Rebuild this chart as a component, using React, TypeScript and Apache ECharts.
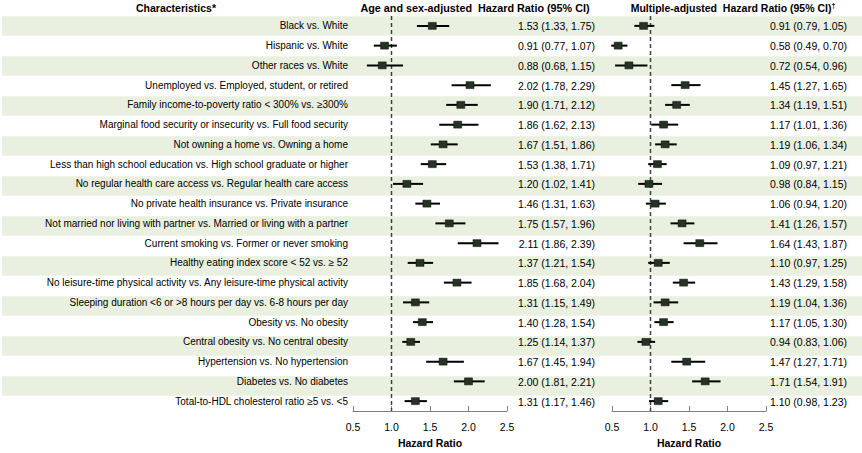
import React, { useEffect, useRef } from "react";
import * as echarts from "echarts";

const categories = [
  "Black vs. White",
  "Hispanic vs. White",
  "Other races vs. White",
  "Unemployed vs. Employed, student, or retired",
  "Family income-to-poverty ratio < 300% vs. ≥300%",
  "Marginal food security or insecurity vs. Full food security",
  "Not owning a home vs. Owning a home",
  "Less than high school education vs. High school graduate or higher",
  "No regular health care access vs. Regular health care access",
  "No private health insurance vs. Private insurance",
  "Not married nor living with partner vs. Married or living with a partner",
  "Current smoking vs. Former or never smoking",
  "Healthy eating index score < 52 vs. ≥ 52",
  "No leisure-time physical activity vs. Any leisure-time physical activity",
  "Sleeping duration <6 or >8 hours per day vs. 6-8 hours per day",
  "Obesity vs. No obesity",
  "Central obesity vs. No central obesity",
  "Hypertension vs. No hypertension",
  "Diabetes vs. No diabetes",
  "Total-to-HDL cholesterol ratio ≥5 vs. <5",
];

const ageHR = [1.53, 0.91, 0.88, 2.02, 1.9, 1.86, 1.67, 1.53, 1.2, 1.46, 1.75, 2.11, 1.37, 1.85, 1.31, 1.4, 1.25, 1.67, 2.0, 1.31];
const ageLo = [1.33, 0.77, 0.68, 1.78, 1.71, 1.62, 1.51, 1.38, 1.02, 1.31, 1.57, 1.86, 1.21, 1.68, 1.15, 1.28, 1.14, 1.45, 1.81, 1.17];
const ageHi = [1.75, 1.07, 1.15, 2.29, 2.12, 2.13, 1.86, 1.71, 1.41, 1.63, 1.96, 2.39, 1.54, 2.04, 1.49, 1.54, 1.37, 1.94, 2.21, 1.46];

const multHR = [0.91, 0.58, 0.72, 1.45, 1.34, 1.17, 1.19, 1.09, 0.98, 1.06, 1.41, 1.64, 1.1, 1.43, 1.19, 1.17, 0.94, 1.47, 1.71, 1.1];
const multLo = [0.79, 0.49, 0.54, 1.27, 1.19, 1.01, 1.06, 0.97, 0.84, 0.94, 1.26, 1.43, 0.97, 1.29, 1.04, 1.05, 0.83, 1.27, 1.54, 0.98];
const multHi = [1.05, 0.7, 0.96, 1.65, 1.51, 1.36, 1.34, 1.21, 1.15, 1.2, 1.57, 1.87, 1.25, 1.58, 1.36, 1.3, 1.06, 1.71, 1.91, 1.23];

const xTicks = { min: 0.5, max: 2.5, interval: 0.5 };
const referenceHR = 1;

const FONT = "Arial, 'Liberation Sans', sans-serif";
const BAND = "#e9f0df";
const MARK = "#243324";

const fmt = (hr: number, lo: number, hi: number) =>
  `${hr.toFixed(2)} (${lo.toFixed(2)}, ${hi.toFixed(2)})`;

const makeRenderCI = (texts: string[], textGap: number) => (params: any, api: any) => {
  const row = api.value(3);
  const c = api.coord([api.value(0), row]);
  const l = api.coord([api.value(1), row]);
  const h = api.coord([api.value(2), row]);
  const cs = params.coordSys;
  return {
    type: "group",
    children: [
      {
        type: "line",
        shape: { x1: l[0], y1: l[1], x2: h[0], y2: h[1] },
        style: { stroke: "#000", lineWidth: 2 },
      },
      {
        type: "rect",
        shape: { x: c[0] - 4, y: c[1] - 3.5, width: 8, height: 7 },
        style: { fill: MARK, stroke: "#111", lineWidth: 0.5 },
      },
      {
        type: "text",
        x: cs.x + cs.width + textGap,
        y: c[1] + 0.5,
        style: {
          text: texts[params.dataIndex],
          fontSize: 10.5,
          fontFamily: FONT,
          fill: "#000",
          align: "right",
          verticalAlign: "middle",
        },
      },
    ],
  };
};

const renderRef = (params: any, api: any) => {
  const p = api.coord([api.value(0), 0]);
  const cs = params.coordSys;
  return {
    type: "line",
    shape: { x1: p[0], y1: cs.y, x2: p[0], y2: cs.y + cs.height },
    style: { stroke: "#404040", lineWidth: 1.5, lineDash: [4, 3] },
  };
};

export default function App() {
  const ref = useRef<HTMLDivElement>(null);
  useEffect(() => {
    if (!ref.current) return;
    const chart = echarts.init(ref.current, null, { renderer: "svg" });

    const leftTexts = categories.map((_, i) => fmt(ageHR[i], ageLo[i], ageHi[i]));
    const rightTexts = categories.map((_, i) => fmt(multHR[i], multLo[i], multHi[i]));
    const ageData = categories.map((_, i) => [ageHR[i], ageLo[i], ageHi[i], i]);
    const multData = categories.map((_, i) => [multHR[i], multLo[i], multHi[i], i]);
    const bandData = categories.map((_, i) => (i % 2 === 0 ? 1 : 0));

    const plotX = (gridIndex: number) => ({
      type: "value",
      gridIndex,
      min: xTicks.min,
      max: xTicks.max,
      interval: xTicks.interval,
      axisLine: { show: true, lineStyle: { color: "#808080", width: 1 } },
      axisTick: { show: true, inside: true, length: 5, lineStyle: { color: "#808080" } },
      axisLabel: {
        formatter: (v: number) => v.toFixed(1),
        fontSize: 10.5,
        color: "#000",
        margin: 10,
        fontFamily: FONT,
      },
      splitLine: { show: false },
      name: "Hazard Ratio",
      nameLocation: "middle",
      nameGap: 26,
      nameTextStyle: { fontSize: 10.5, fontWeight: "bold", color: "#000", fontFamily: FONT },
    });

    const catAxis = (gridIndex: number, label: any) => ({
      type: "category",
      gridIndex,
      data: categories,
      inverse: true,
      axisLine: { show: false },
      axisTick: { show: false },
      splitLine: { show: false },
      axisLabel: label,
    });

    const header = (text: string, x: number, size: number) => ({
      type: "text",
      x,
      y: 8,
      style: {
        text,
        fontSize: size,
        fontWeight: "bold",
        fill: "#000",
        align: "center",
        verticalAlign: "middle",
        fontFamily: FONT,
        rich: {
          sup: { fontSize: 7, fontWeight: "bold", fill: "#000", fontFamily: FONT, padding: [0, 0, 5, 0] },
        },
      },
    });

    chart.setOption({
      animation: false,
      backgroundColor: "#fff",
      textStyle: { fontFamily: FONT },
      grid: [
        { left: 2, right: 0, top: 16, height: 400 },
        { left: 353, width: 154, top: 16, height: 400 },
        { left: 612, width: 154, top: 16, height: 400 },
      ],
      xAxis: [
        { type: "value", gridIndex: 0, min: 0, max: 1, show: false },
        plotX(1),
        plotX(2),
      ],
      yAxis: [
        catAxis(0, { show: false }),
        catAxis(1, { fontSize: 10, color: "#000", margin: 5, fontFamily: FONT }),
        catAxis(2, { show: false }),
      ],
      graphic: [
        header("Characteristics*", 176, 10.5),
        header("Age and sex-adjusted  Hazard Ratio (95% CI)", 475, 10.8),
        header("Multiple-adjusted  Hazard Ratio (95% CI){sup|†}", 733, 10.5),
      ],
      series: [
        {
          type: "bar",
          xAxisIndex: 0,
          yAxisIndex: 0,
          data: bandData,
          barCategoryGap: "3%",
          itemStyle: { color: BAND },
          silent: true,
          z: 0,
        },
        {
          type: "custom",
          xAxisIndex: 1,
          yAxisIndex: 1,
          data: [[referenceHR, 0]],
          encode: { x: 0, y: 1 },
          renderItem: renderRef,
          silent: true,
          z: 4,
        },
        {
          type: "custom",
          xAxisIndex: 2,
          yAxisIndex: 2,
          data: [[referenceHR, 0]],
          encode: { x: 0, y: 1 },
          renderItem: renderRef,
          silent: true,
          z: 4,
        },
        {
          type: "custom",
          xAxisIndex: 1,
          yAxisIndex: 1,
          data: ageData,
          encode: { x: [0, 1, 2], y: 3 },
          renderItem: makeRenderCI(leftTexts, 88),
          z: 5,
        },
        {
          type: "custom",
          xAxisIndex: 2,
          yAxisIndex: 2,
          data: multData,
          encode: { x: [0, 1, 2], y: 3 },
          renderItem: makeRenderCI(rightTexts, 81),
          z: 5,
        },
      ],
    });
    return () => chart.dispose();
  }, []);
  return (
    <div
      ref={ref}
      style={{ position: "fixed", left: 0, top: 0, width: 862, height: 453 }}
    />
  );
}
